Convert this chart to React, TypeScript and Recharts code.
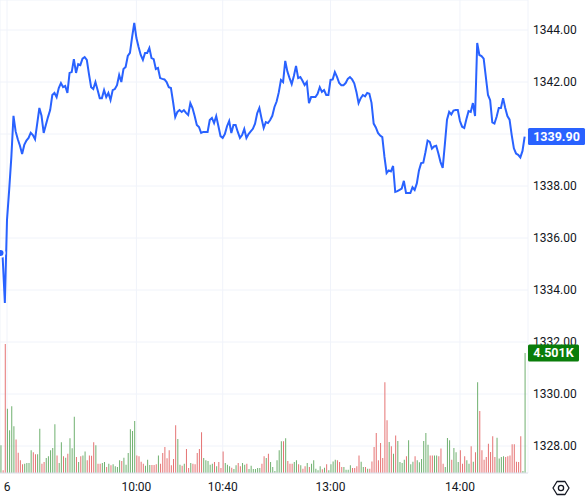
import React from 'react';
import { ComposedChart, XAxis, YAxis, CartesianGrid, Line, Bar, Cell, ReferenceLine } from 'recharts';

// minutes of trading session, 0 = session start ("6")
const firstMinute = -3;
const tickMinutes = [0, 60, 100, 150, 210];
const tickLabels = ['6', '10:00', '10:40', '13:00', '14:00'];
const priceTicks = [1328, 1330, 1332, 1334, 1336, 1338, 1340, 1342, 1344];

const prices = [
  1335.42, 1335.23, 1333.5,
  1336.7, 1337.85, 1339.1, 1340.7, 1340.1, 1339.8, 1339.55, 1339.23, 1339.58, 1339.75,
  1339.85, 1340.05, 1339.96, 1339.8, 1340.4, 1341.0, 1340.7, 1340.04, 1340.35, 1340.65,
  1340.92, 1341.5, 1341.58, 1341.42, 1341.77, 1341.96, 1341.8, 1341.85, 1341.58, 1342.35,
  1342.38, 1342.88, 1342.35, 1342.69, 1342.65, 1342.9, 1342.96, 1342.85, 1342.3, 1341.8,
  1341.73, 1342.0, 1341.69, 1341.38, 1341.38, 1341.69, 1341.42, 1341.58, 1341.31, 1341.69,
  1341.73, 1341.88, 1342.27, 1342.0, 1342.5, 1342.58, 1343.0, 1343.12, 1343.73, 1344.27,
  1343.69, 1343.35, 1343.04, 1342.85, 1343.12, 1343.12, 1343.31, 1342.92, 1342.88, 1342.5,
  1342.54, 1342.15, 1342.12, 1342.1, 1342.0, 1341.8, 1341.77, 1341.23, 1340.65, 1340.85,
  1340.92, 1340.85, 1340.92, 1340.81, 1340.73, 1341.19, 1341.0, 1340.69, 1340.35, 1340.27,
  1340.04, 1340.08, 1340.08, 1340.08, 1340.54, 1340.62, 1340.42, 1340.69, 1340.31, 1339.92,
  1339.85, 1340.0, 1340.3, 1340.5, 1340.04, 1340.35, 1340.35, 1340.08, 1339.85, 1339.96,
  1340.19, 1339.85, 1340.0, 1340.1, 1340.2, 1340.4, 1340.8, 1341.0, 1340.6, 1340.23,
  1340.46, 1340.42, 1340.54, 1340.7, 1341.04, 1341.25, 1341.6, 1342.08, 1342.0, 1342.81,
  1342.4, 1342.15, 1341.92, 1342.23, 1342.62, 1342.15, 1342.19, 1342.05, 1341.88, 1342.0,
  1341.19, 1341.42, 1341.42, 1341.42, 1341.55, 1341.8, 1341.62, 1341.69, 1341.5, 1341.5,
  1342.08, 1342.1, 1342.38, 1342.2, 1341.96, 1341.88, 1341.88, 1341.96, 1342.12, 1342.19,
  1342.1, 1341.95, 1341.62, 1341.19, 1341.38, 1341.5, 1341.45, 1341.58, 1341.55, 1341.2,
  1340.4, 1340.25, 1340.04, 1339.94, 1339.88, 1339.12, 1338.5, 1338.6, 1338.56, 1338.77,
  1337.77, 1337.8, 1337.85, 1337.9, 1338.2, 1337.73, 1337.73, 1337.73, 1337.95, 1337.85,
  1338.1, 1338.6, 1338.88, 1338.9, 1339.3, 1339.75, 1339.7, 1339.44, 1339.52, 1339.55,
  1339.25, 1338.92, 1338.7, 1339.6, 1340.55, 1340.85, 1340.75, 1340.9, 1340.92, 1340.92,
  1340.5, 1340.28, 1340.23, 1340.58, 1340.88, 1340.85, 1341.19, 1340.69, 1343.5, 1343.04,
  1343.0, 1342.9, 1342.2, 1341.5, 1341.3, 1340.45, 1340.4, 1340.66, 1341.0, 1341.0,
  1341.38, 1341.0, 1340.69, 1340.55, 1339.96, 1339.45, 1339.25, 1339.2, 1339.1, 1339.35, 1339.9,
];

const volumes = [
  1040, 100, 4840,
  2410, 1600, 2500, 1750, 1260, 760, 475, 325, 350, 375,
  375, 850, 775, 700, 700, 1660, 350, 410, 560, 625,
  850, 940, 1825, 660, 375, 1150, 625, 575, 725, 1300,
  925, 2110, 600, 410, 625, 660, 810, 475, 660, 650,
  1150, 1040, 350, 350, 375, 410, 225, 350, 290, 325,
  250, 225, 475, 450, 575, 310, 750, 1640, 1575, 1950,
  660, 625, 425, 350, 275, 500, 300, 300, 300, 325,
  660, 350, 750, 975, 550, 850, 290, 525, 1790, 1275,
  310, 275, 350, 900, 190, 375, 350, 325, 750, 900,
  1525, 560, 475, 450, 310, 350, 410, 250, 410, 190,
  810, 375, 310, 250, 200, 150, 290, 375, 250, 375,
  310, 350, 150, 275, 150, 150, 190, 190, 350, 625,
  560, 725, 410, 225, 75, 475, 850, 1190, 1190, 1300,
  450, 350, 350, 410, 475, 325, 290, 160, 250, 375,
  225, 350, 475, 160, 100, 250, 140, 200, 325, 100,
  325, 435, 500, 475, 410, 225, 225, 125, 125, 290,
  190, 190, 250, 660, 425, 225, 225, 160, 160, 435,
  975, 1500, 475, 1125, 560, 3400, 1975, 1160, 1000, 725,
  1410, 1200, 410, 375, 500, 625, 1225, 325, 425, 625,
  475, 400, 525, 1200, 1500, 1060, 660, 660, 660, 660,
  625, 915, 350, 225, 1310, 1225, 500, 940, 775, 410,
  850, 350, 625, 475, 350, 1000, 425, 775, 3400, 2325,
  850, 500, 600, 1100, 790, 1375, 600, 1325, 540, 600,
  625, 600, 625, 660, 1075, 1075, 425, 410, 1375, 75, 4501,
];

const lastPrice = 1339.9;
const lastVolume = 4501;

const data = prices.map((price, i) => ({
  t: firstMinute + i,
  price,
  volume: volumes[i],
  up: i === 0 || price >= prices[i - 1],
}));

const font = 'Roboto, "DejaVu Sans", sans-serif';

const AxisTag = (props: any) => {
  const { viewBox, text, color, w } = props;
  const x = viewBox.x + viewBox.width;
  const y = viewBox.y;
  return (
    <g>
      <rect x={x} y={y - 8.5} width={w} height={17} rx={1.5} fill={color} />
      <text x={x + w / 2} y={y} dy="0.36em" textAnchor="middle" fill="#fff" fontSize={12.5} fontWeight="bold" fontFamily={font}>
        {text}
      </text>
    </g>
  );
};

const App: React.FC = () => {
  return (
    <div style={{ position: 'absolute', left: 0, top: 0, width: 588, height: 499, background: '#fff' }}>
      <ComposedChart width={588} height={499} data={data} margin={{ top: 0, right: 0, left: 0, bottom: 0 }}>
        <CartesianGrid yAxisId="price" stroke="#f0f3fa" strokeWidth={1} />
        <XAxis
          dataKey="t"
          type="number"
          domain={[-3.25, 241.55]}
          allowDataOverflow
          ticks={tickMinutes}
          tickFormatter={(v: number) => tickLabels[tickMinutes.indexOf(v)]}
          height={26}
          tickLine={false}
          tickSize={0}
          tickMargin={9}
          axisLine={{ stroke: '#e0e3eb' }}
          tick={{ fill: '#131722', fontSize: 12, fontFamily: font }}
        />
        <YAxis
          yAxisId="price"
          orientation="right"
          type="number"
          domain={[1326.962, 1345.154]}
          allowDataOverflow
          ticks={priceTicks}
          // the last-price tag sits over the nearest tick label
          tickFormatter={(v: number) => (Math.abs(v - lastPrice) < 0.5 ? '' : v.toFixed(2))}
          width={60}
          tickLine={false}
          tickSize={0}
          tickMargin={5}
          axisLine={false}
          tick={{ fill: '#131722', fontSize: 12, fontFamily: font }}
        />
        <YAxis yAxisId="vol" hide domain={[0, 17741]} allowDataOverflow />
        <Bar yAxisId="vol" dataKey="volume" barSize={1} isAnimationActive={false}>
          {data.map((d, i) => (
            <Cell key={i} fill={d.up ? '#6fb06f' : '#e57373'} />
          ))}
        </Bar>
        <Line
          yAxisId="price"
          type="linear"
          dataKey="price"
          stroke="#2962ff"
          strokeWidth={2}
          dot={false}
          isAnimationActive={false}
        />
        <ReferenceLine
          yAxisId="price"
          y={lastPrice}
          stroke="none"
          zIndex={2000}
          label={<AxisTag text={lastPrice.toFixed(2)} color="#2962ff" w={57} />}
        />
        <ReferenceLine
          yAxisId="vol"
          y={lastVolume}
          stroke="none"
          zIndex={2000}
          label={<AxisTag text={(lastVolume / 1000).toFixed(3) + 'K'} color="#0a7d0a" w={51} />}
        />
      </ComposedChart>
      <svg width={18} height={18} style={{ position: 'absolute', left: 552, top: 479 }} viewBox="0 0 18 18">
        <path d="M5 2.5 L13 2.5 L17 9 L13 15.5 L5 15.5 L1 9 Z" fill="none" stroke="#131722" strokeWidth={1.3} strokeLinejoin="round" />
        <circle cx={9} cy={9} r={2.6} fill="none" stroke="#131722" strokeWidth={1.3} />
      </svg>
    </div>
  );
};

export default App;
